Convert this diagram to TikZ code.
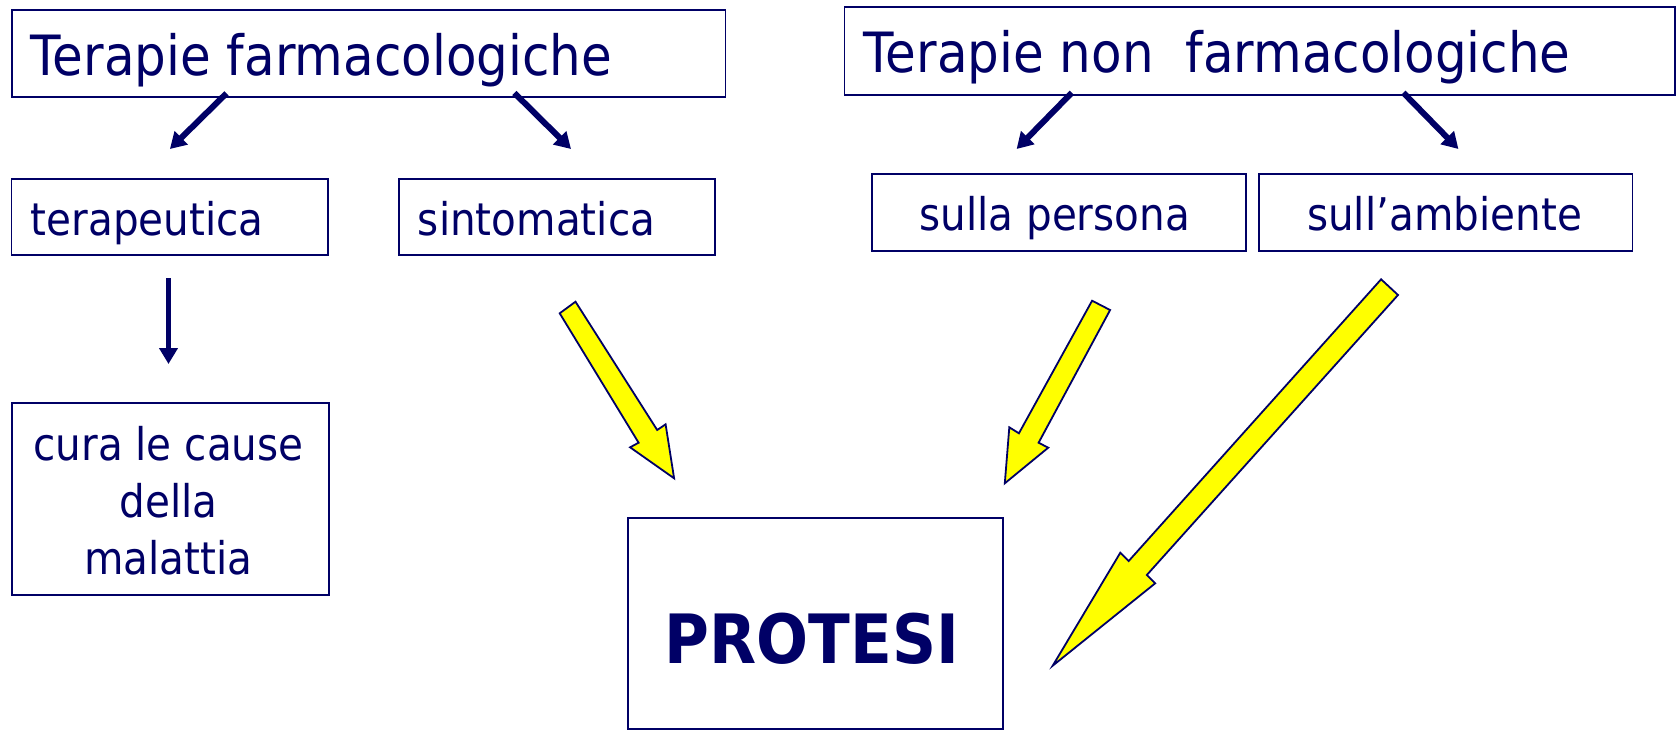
\documentclass[tikz,border=0pt]{standalone}
\usepackage{fontspec}
\setmainfont{DejaVu Sans}[FakeStretch=0.9]
\usetikzlibrary{arrows.meta}
\definecolor{navy}{RGB}{0,0,102}
\definecolor{yel}{RGB}{255,255,0}
\begin{document}
\begin{tikzpicture}[x=1pt,y=-1pt,
  box/.style={draw=navy,line width=1.8pt,rectangle,inner sep=0pt,anchor=north west},
  txt/.style={text=navy,inner sep=0pt,anchor=base west},
  bigtxt/.style={txt,font=\fontsize{55.5}{60}\selectfont},
  midtxt/.style={txt,font=\fontsize{45}{57}\selectfont},
  darr/.style={draw=navy,line width=6pt,-{Triangle[length=16pt,width=18pt]}},
  yarr/.style={draw=navy,fill=yel,line width=1.8pt,line join=miter}]
\useasboundingbox[fill=white] (0,0) rectangle (1678,729);
% boxes
\node[box,minimum width=713.8pt,minimum height=87.3pt] (tf) at (10.7,9) {};
\node[box,minimum width=830.5pt,minimum height=88.3pt] (tnf) at (843.5,5.7) {};
\node[box,minimum width=316.6pt,minimum height=75.7pt] (terap) at (10.5,178.3) {};
\node[box,minimum width=316.2pt,minimum height=75.7pt] (sint) at (397.8,178.3) {};
\node[box,minimum width=373.8pt,minimum height=77.3pt] (pers) at (871,172.7) {};
\node[box,minimum width=373.7pt,minimum height=77.3pt] (amb) at (1257.8,172.7) {};
\node[box,minimum width=316.7pt,minimum height=192.3pt] (cura) at (11,401.7) {};
\node[box,minimum width=375pt,minimum height=211.5pt] (prot) at (627.3,516.7) {};
% texts
\node[bigtxt] (tft) at (30.7,75) {Terapie farmacologiche};
\node[bigtxt] (tnft) at (863.5,72.7) {Terapie non\ \ farmacologiche};
\node[midtxt] (terapt) at (30.7,235) {terapeutica};
\node[midtxt] (sintt) at (417.7,235) {sintomatica};
\node[midtxt] (perst) at (919.2,230) {sulla persona};
\node[midtxt] (ambt) at (1307,230) {sull’ambiente};
\node[text=navy,inner sep=0pt,align=center,font=\fontsize{45}{57}\selectfont] (curat) at (168.5,500.6) {cura le cause\\della\\malattia};
\node[text=navy,inner sep=0pt,anchor=base,font=\fontsize{68}{72}\selectfont\bfseries] (prott) at (812,663.3) {PROTESI};
% dark arrows
\coordinate (a1s) at (226.5,93.3); \coordinate (a1e) at (169.9,149);
\coordinate (a2s) at (514.4,93);   \coordinate (a2e) at (571,149);
\coordinate (a3s) at (1071.8,92.7); \coordinate (a3e) at (1016.6,149);
\coordinate (a4s) at (1403.3,92.7); \coordinate (a4e) at (1458.4,149);
\coordinate (a5s) at (168.5,278.3); \coordinate (a5e) at (168.5,364);
\draw[darr] (a1s) -- (a1e);
\draw[darr] (a2s) -- (a2e);
\draw[darr] (a3s) -- (a3e);
\draw[darr] (a4s) -- (a4e);
\draw[darr,line width=5pt] (a5s) -- (a5e);
% yellow block arrows
\draw[yarr] (575.5,301.7) -- (657.2,430) -- (665.6,424.3) -- (674.1,478.3) -- (630.1,447.3) -- (638.6,442.7) -- (559.7,313.3) -- cycle;
\draw[yarr] (1092.1,300.7) -- (1110.1,310) -- (1038.6,442.7) -- (1048.2,447.7) -- (1004.8,483.3) -- (1009.3,427.3) -- (1018.9,433.3) -- cycle;
\draw[yarr] (1381.1,279.3) -- (1398,295) -- (1146.8,575) -- (1155.2,583.3) -- (1052.7,665.7) -- (1120.3,552.7) -- (1128.7,561) -- cycle;
\end{tikzpicture}
\end{document}
